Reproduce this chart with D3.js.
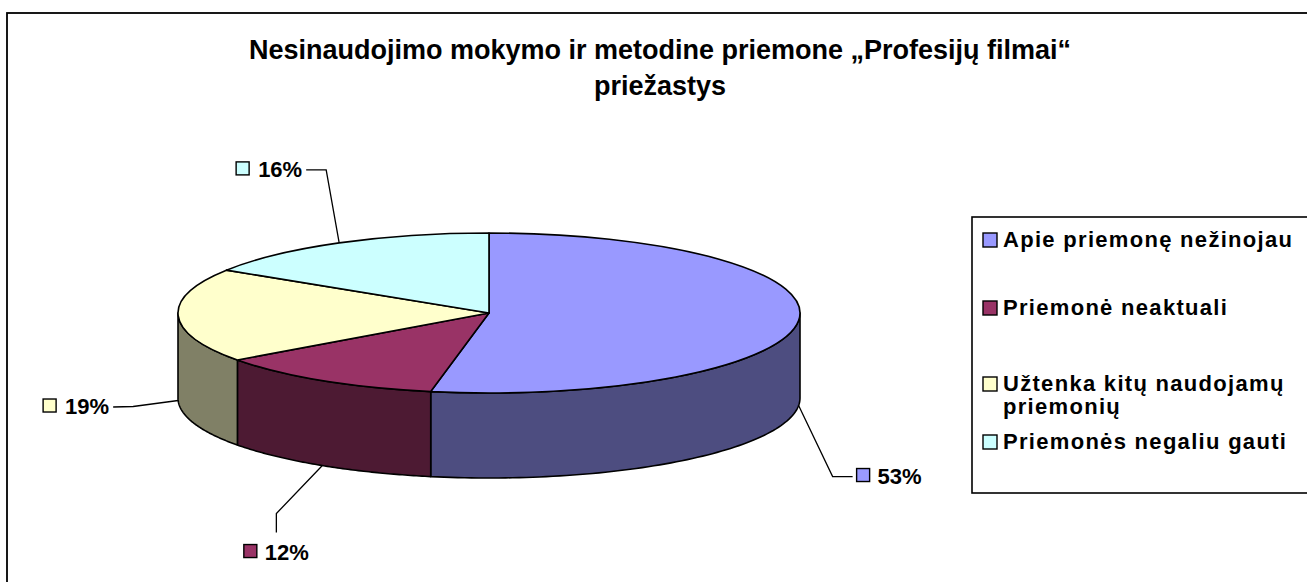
<!DOCTYPE html>
<html>
<head>
<meta charset="utf-8">
<script src="https://cdn.jsdelivr.net/npm/d3@7"></script>
<style>
  html, body { margin: 0; padding: 0; background: #fff; }
  svg { display: block; font-family: "Liberation Sans", Arial, sans-serif; font-weight: bold; }
</style>
</head>
<body>
<div id="chart"></div>
<script>
// data
const titleLines = ["Nesinaudojimo mokymo ir metodine priemone \u201EProfesij\u0173 filmai\u201C", "prie\u017Eastys"];
const categories = ["Apie priemonę nežinojau", "Priemonė neaktuali", "Užtenka kitų naudojamų priemonių", "Priemonės negaliu gauti"];
const values = [53, 12, 19, 16];
const colors = ["#9999FF", "#993366", "#FFFFCC", "#CCFFFF"];

// layout
const width = 1307, height = 582;
const cx = 489, cy = 313, rx = 311, ry = 80, depth = 85;
// leader line offsets from the slice anchor (elbow, end) and label side
const labelLayout = [
    { elbow: [34, 71], end: [54, 71], side: "right" },
    { elbow: [-46, 48], end: [-46, 67], side: "below" },
    { elbow: [-45, 6], end: [-65, 6.5], side: "left" },
    { elbow: [-13, -73], end: [-33, -73], side: "left" }
];
const legendRowY = [247, 315, 391, 449];

const svg = d3.select("#chart").append("svg")
    .attr("width", width)
    .attr("height", height);

// outer chart frame (runs off the right and bottom edge)
svg.append("rect")
    .attr("x", 7).attr("y", 13)
    .attr("width", 1330).attr("height", 620)
    .attr("fill", "#fff").attr("stroke", "#000").attr("stroke-width", 1.8);

// title
svg.append("g").selectAll("text")
    .data(titleLines)
    .join("text")
    .attr("x", 660)
    .attr("y", (d, i) => 59 + i * 36)
    .attr("text-anchor", "middle")
    .style("font-size", "27px")
    .text(d => d);

const total = d3.sum(values);
const arcs = d3.pie().sort(null).value(d => d)(values);

const pt = (a, dy = 0) => [cx + rx * Math.sin(a), cy - ry * Math.cos(a) + dy];
const shade = c => { const r = d3.rgb(c); return d3.rgb(r.r * 0.5, r.g * 0.5, r.b * 0.5); };

// outer walls (front half only)
const wallPath = d => {
    const a0 = Math.max(d.startAngle, Math.PI / 2);
    const a1 = Math.min(d.endAngle, 3 * Math.PI / 2);
    if (a0 >= a1) return null;
    const n = 80;
    const top = d3.range(n + 1).map(i => pt(a0 + (a1 - a0) * i / n));
    const bottom = top.slice().reverse().map(p => [p[0], p[1] + depth]);
    return d3.line()(top.concat(bottom)) + "Z";
};

svg.append("g").selectAll("path")
    .data(arcs.filter(wallPath))
    .join("path")
    .attr("d", wallPath)
    .attr("fill", d => shade(colors[d.index]))
    .attr("stroke", "#000")
    .attr("stroke-width", 1.6)
    .attr("stroke-linejoin", "round");

// top faces: circular arcs squashed into an ellipse
const arc = d3.arc().innerRadius(0).outerRadius(rx);
svg.append("g")
    .attr("transform", `translate(${cx},${cy}) scale(1,${ry / rx})`)
    .selectAll("path")
    .data(arcs)
    .join("path")
    .attr("d", arc)
    .attr("fill", d => colors[d.index])
    .attr("stroke", "#000")
    .attr("stroke-width", 1.6)
    .attr("stroke-linejoin", "round")
    .attr("vector-effect", "non-scaling-stroke");

// data labels with leader lines
const labels = svg.append("g");
arcs.forEach((d, i) => {
    const mid = (d.startAngle + d.endAngle) / 2;
    const anchor = pt(mid, Math.cos(mid) < 0 ? depth : 0);
    const L = labelLayout[i];
    const elbow = [anchor[0] + L.elbow[0], anchor[1] + L.elbow[1]];
    const end = [anchor[0] + L.end[0], anchor[1] + L.end[1]];
    labels.append("path")
        .attr("d", d3.line()([anchor, elbow, end]))
        .attr("fill", "none")
        .attr("stroke", "#000")
        .attr("stroke-width", 1.3);

    const txt = Math.round(d.value / total * 100) + "%";
    const t = labels.append("text").style("font-size", "22px").text(txt);
    const tw = t.node().getComputedTextLength();
    let mx, ty, tx;
    if (L.side === "right") {
        mx = end[0] + 4; tx = end[0] + 25; ty = end[1] + 7;
    } else if (L.side === "left") {
        tx = end[0] - 4 - tw; mx = tx - 22; ty = end[1] + 7;
    } else {
        mx = end[0] - (21 + tw) / 2; tx = mx + 21; ty = end[1] + 27;
    }
    t.attr("x", tx).attr("y", ty);
    labels.append("rect")
        .attr("x", mx).attr("y", ty - 15)
        .attr("width", 13).attr("height", 13)
        .attr("fill", colors[i])
        .attr("stroke", "#000").attr("stroke-width", 1.4);
});

// legend
const legend = svg.append("g");
legend.append("rect")
    .attr("x", 972).attr("y", 217)
    .attr("width", 400).attr("height", 276)
    .attr("fill", "#fff").attr("stroke", "#000").attr("stroke-width", 1.6);

categories.forEach((c, i) => {
    const y = legendRowY[i];
    legend.append("rect")
        .attr("x", 983).attr("y", y - 14)
        .attr("width", 14).attr("height", 14)
        .attr("fill", colors[i])
        .attr("stroke", "#000").attr("stroke-width", 1.4);
    const t = legend.append("text")
        .attr("x", 1003).attr("y", y)
        .style("font-size", "22px")
        .style("letter-spacing", "1.3px");
    // wrap words to the legend width
    const words = c.split(" ");
    let line = [];
    let tspan = t.append("tspan").attr("x", 1003).attr("dy", 0);
    words.forEach(w => {
        line.push(w);
        tspan.text(line.join(" "));
        if (tspan.node().getComputedTextLength() > 298 && line.length > 1) {
            line.pop();
            tspan.text(line.join(" "));
            line = [w];
            tspan = t.append("tspan").attr("x", 1003).attr("dy", 23).text(w);
        }
    });
});
</script>
</body>
</html>
